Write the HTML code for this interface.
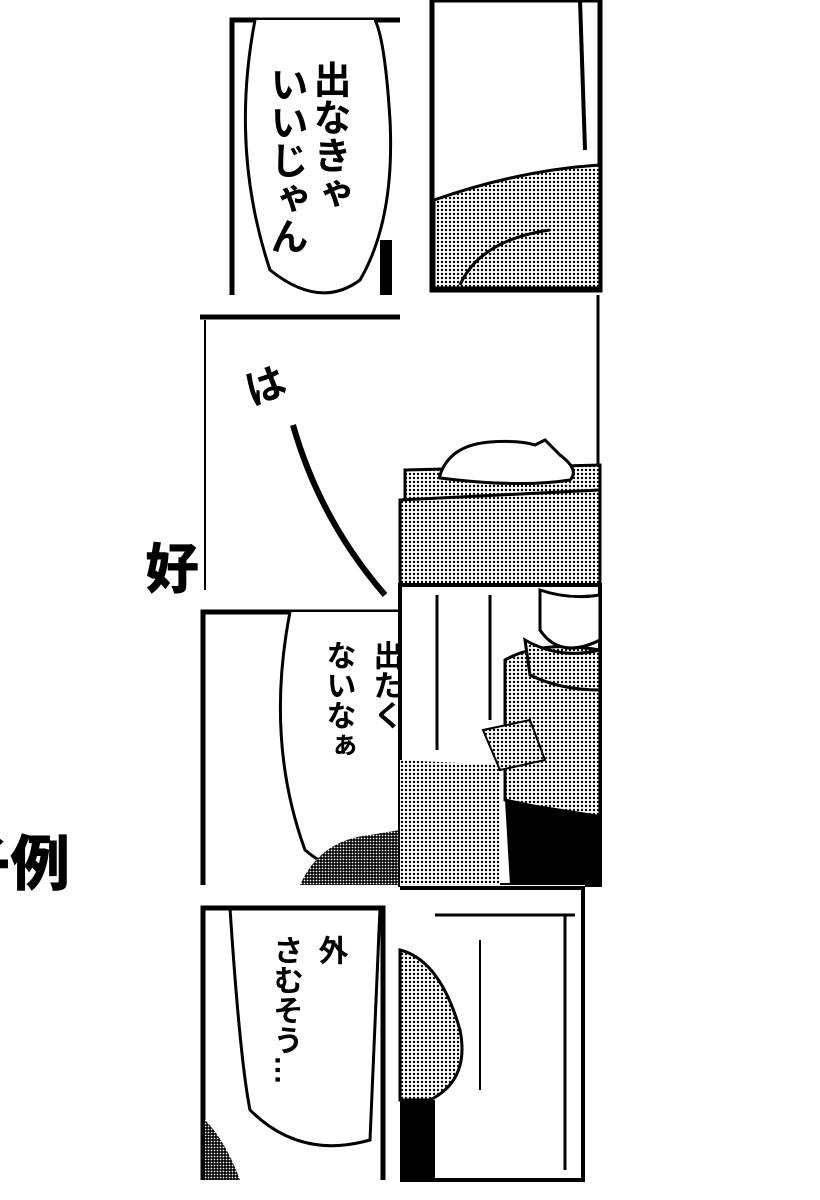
<!DOCTYPE html>
<html><head><meta charset="utf-8"><style>
html,body{margin:0;padding:0;background:#fff;width:820px;height:1200px;overflow:hidden}
svg{display:block}
.t{font-family:"Liberation Sans","Noto Sans CJK JP",sans-serif;writing-mode:vertical-rl;fill:#000}
</style></head><body>
<svg width="820" height="1200" viewBox="0 0 820 1200" xmlns="http://www.w3.org/2000/svg">
<defs>
<pattern id="ht" width="4" height="4" patternUnits="userSpaceOnUse"><rect width="4" height="4" fill="#fff"/><circle cx="2" cy="2" r="1.2" fill="#000"/></pattern>
<pattern id="hd" width="3" height="3" patternUnits="userSpaceOnUse"><rect width="3" height="3" fill="#000"/><circle cx="1.5" cy="1.5" r="0.9" fill="#fff"/></pattern>
</defs>
<rect width="820" height="1200" fill="#fff"/>
<text x="145" y="588" font-family="Liberation Sans,Noto Sans CJK JP,sans-serif" font-weight="900" font-size="54">好</text>
<text x="-50" y="885" font-family="Liberation Sans,Noto Sans CJK JP,sans-serif" font-weight="900" font-size="60">子例</text>

<!-- row 1 left -->
<rect x="200" y="0" width="200" height="298" fill="#fff"/>
<path d="M232 295 L232 20 L400 20" fill="none" stroke="#000" stroke-width="5"/>
<path d="M255 20 Q230 150 270 270 Q320 310 360 280 Q395 220 390 120 Q385 40 375 20" fill="#fff" stroke="#000" stroke-width="3"/>
<rect x="380" y="240" width="12" height="55" fill="#000"/>
<text class="t" x="328" y="60" font-size="38" font-weight="bold">出なきゃ</text>
<text class="t" x="285" y="65" font-size="38" font-weight="bold">いいじゃん</text>

<!-- row 1 right -->
<rect x="432" y="0" width="168" height="290" fill="#fff" stroke="#000" stroke-width="5"/>
<path d="M434 200 Q520 170 600 165 L600 288 L434 288 Z" fill="url(#ht)" stroke="#000" stroke-width="3"/>
<path d="M460 285 Q480 240 550 230" fill="none" stroke="#000" stroke-width="3"/>
<line x1="580" y1="0" x2="585" y2="150" stroke="#000" stroke-width="4"/>

<!-- row 2 left -->
<path d="M200 317 L400 317" stroke="#000" stroke-width="5"/>
<line x1="205" y1="320" x2="205" y2="590" stroke="#000" stroke-width="2"/>
<text x="245" y="400" font-size="40" font-weight="bold" font-family="Liberation Sans,Noto Sans CJK JP,sans-serif" transform="rotate(-20 265 385)">は</text>
<path d="M293 425 Q320 520 385 595" fill="none" stroke="#000" stroke-width="6"/>
<path d="M405 610 L430 635" stroke="#000" stroke-width="6"/>

<!-- row 2 right -->
<rect x="400" y="295" width="200" height="290" fill="#fff"/>
<line x1="598" y1="295" x2="598" y2="585" stroke="#000" stroke-width="3"/>
<path d="M405 470 L600 465 L600 495 L405 500 Z" fill="url(#ht)" stroke="#000" stroke-width="3"/>
<path d="M400 500 L600 490 L600 585 L400 585 Z" fill="url(#ht)" stroke="#000" stroke-width="3"/>
<path d="M440 475 Q450 445 490 442 Q520 440 535 445 L545 440 L560 455 Q580 470 570 480 Q520 488 440 478 Z" fill="#fff" stroke="#000" stroke-width="3"/>

<!-- row 3 left -->
<rect x="200" y="610" width="200" height="275" fill="#fff"/>
<path d="M203 885 L203 612 L400 612" fill="none" stroke="#000" stroke-width="5"/>
<path d="M290 612 Q265 740 305 850 Q340 880 380 870 L400 860 L400 612" fill="#fff" stroke="#000" stroke-width="3"/>
<path d="M300 885 Q320 840 370 835 L400 830 L400 885 Z" fill="url(#hd)"/>
<text class="t" x="385" y="640" font-size="30" font-weight="bold">出たく</text>
<text class="t" x="338" y="640" font-size="30" font-weight="bold">ないなぁ</text>

<!-- row 3 right -->
<rect x="400" y="585" width="200" height="300" fill="#fff" stroke="#000" stroke-width="4"/>
<line x1="437" y1="595" x2="437" y2="750" stroke="#000" stroke-width="3"/>
<line x1="490" y1="595" x2="490" y2="720" stroke="#000" stroke-width="3"/>
<path d="M400 760 L500 765 L500 885 L400 885 Z" fill="url(#ht)"/>
<path d="M505 660 Q540 640 600 650 L600 820 L505 800 Z" fill="url(#ht)" stroke="#000" stroke-width="3"/>
<path d="M525 640 Q560 660 600 650 L600 690 Q560 690 530 675 Z" fill="url(#ht)" stroke="#000" stroke-width="3"/>
<path d="M540 590 Q570 600 600 595 L600 640 Q560 660 540 630 Z" fill="#fff" stroke="#000" stroke-width="3"/>
<path d="M505 800 L600 815 L600 885 L510 885 Z" fill="#000"/>
<path d="M483 730 L530 720 L545 760 L500 770 Z" fill="url(#ht)" stroke="#000" stroke-width="2"/>

<!-- row 4 left -->
<rect x="200" y="905" width="185" height="275" fill="#fff"/>
<path d="M203 1180 L203 908 L383 908 L383 1180" fill="none" stroke="#000" stroke-width="5"/>
<path d="M230 908 Q240 1060 250 1110 Q300 1160 370 1140 L380 908" fill="none" stroke="#000" stroke-width="3"/>
<path d="M205 1120 Q225 1140 240 1180 L205 1180 Z" fill="url(#hd)"/>
<text class="t" x="330" y="935" font-size="30" font-weight="bold">外</text>
<text class="t" x="285" y="935" font-size="30" font-weight="bold">さむそう…</text>

<!-- row 4 right -->
<rect x="400" y="885" width="185" height="295" fill="#fff"/>
<path d="M400 1180 L583 1180 L583 888 L400 888" fill="none" stroke="#000" stroke-width="4"/>
<path d="M435 915 L575 915" stroke="#000" stroke-width="3"/>
<line x1="565" y1="915" x2="565" y2="1170" stroke="#000" stroke-width="3"/>
<line x1="480" y1="940" x2="480" y2="1090" stroke="#000" stroke-width="2"/>
<path d="M400 950 Q440 960 460 1030 Q470 1080 430 1100 L400 1100 Z" fill="url(#ht)" stroke="#000" stroke-width="3"/>
<path d="M400 1100 L435 1100 L435 1180 L400 1180 Z" fill="#000"/>
</svg>
</body></html>
